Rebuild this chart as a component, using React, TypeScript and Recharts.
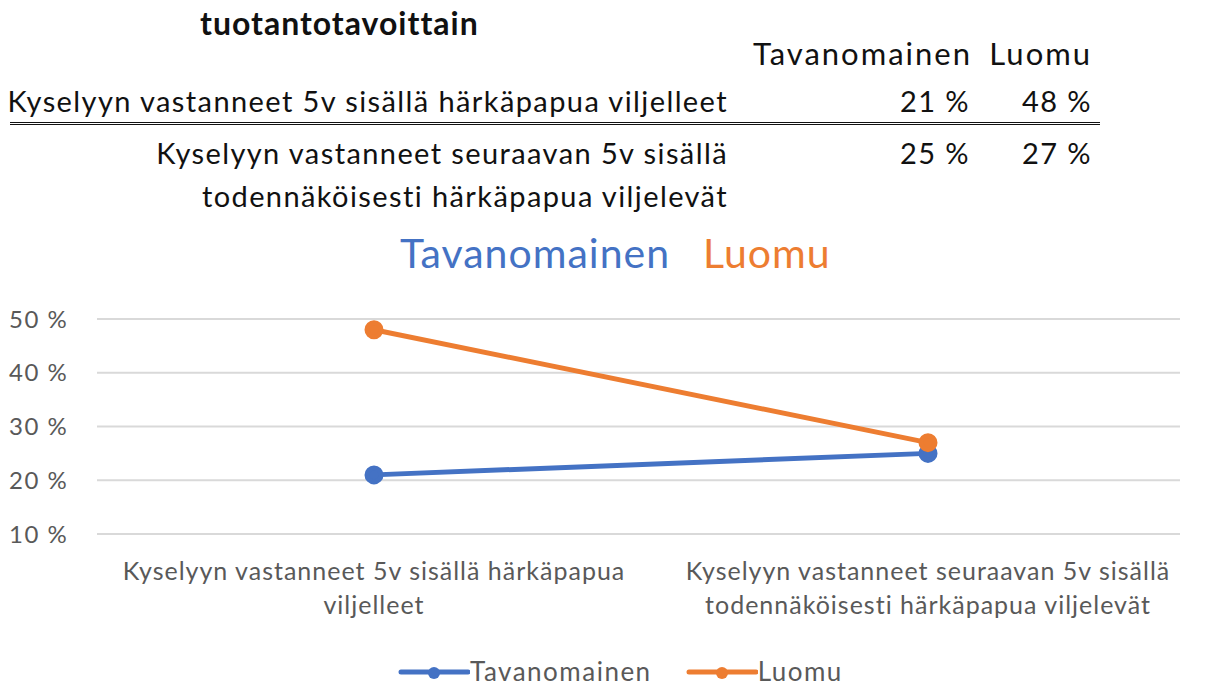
import React from "react";
import { CartesianGrid, Line, LineChart, XAxis, YAxis } from "recharts";

// Values (percent)
const CATEGORIES = [
  "Kyselyyn vastanneet 5v sisällä härkäpapua|viljelleet",
  "Kyselyyn vastanneet seuraavan 5v sisällä|todennäköisesti härkäpapua viljelevät",
];
const TAVANOMAINEN = [21, 25];
const LUOMU = [48, 27];
const Y_TICKS = [10, 20, 30, 40, 50];

const TABLE_ROWS = [
  ["Kyselyyn vastanneet 5v sisällä härkäpapua viljelleet"],
  ["Kyselyyn vastanneet seuraavan 5v sisällä", "todennäköisesti härkäpapua viljelevät"],
];

const BLUE = "#4472C4";
const ORANGE = "#ED7D31";
const GRAY = "#595959";
const FONT = "Lato, 'Open Sans', sans-serif";

const data = CATEGORIES.map((c, i) => ({
  name: c,
  Tavanomainen: TAVANOMAINEN[i],
  Luomu: LUOMU[i],
}));

function CategoryTick({ x, y, payload }: any) {
  const lines = String(payload.value).split("|");
  return (
    <text x={x} y={y} textAnchor="middle" fill={GRAY} fontSize={25} letterSpacing={1} fontFamily={FONT}>
      {lines.map((l, i) => (
        <tspan key={i} x={x} dy={i === 0 ? 38 : 34}>
          {l}
        </tspan>
      ))}
    </text>
  );
}

const pct = (v: number) => `${Math.round(v)} %`;

export default function App() {
  const txt: React.CSSProperties = {
    position: "absolute", fontFamily: FONT, fontSize: 29, letterSpacing: 1.4, color: "#111", whiteSpace: "nowrap", lineHeight: 1,
  };
  const head: React.CSSProperties = { ...txt, fontSize: 31, letterSpacing: 2 };
  return (
    <div style={{ position: "relative", width: 1208, height: 687, background: "#fff", overflow: "hidden" }}>
      <style>{"body{margin:0}"}</style>

      {/* table above the chart */}
      <div style={{ ...txt, left: 200, top: 7, fontSize: 32, letterSpacing: 1, fontWeight: 700 }}>tuotantotavoittain</div>
      <div style={{ ...head, right: 1208 - 972, top: 38 }}>Tavanomainen</div>
      <div style={{ ...head, right: 1208 - 1092, top: 38 }}>Luomu</div>

      <div style={{ ...txt, right: 1208 - 728, top: 86 }}>{TABLE_ROWS[0][0]}</div>
      <div style={{ ...txt, right: 1208 - 970, top: 86 }}>{pct(TAVANOMAINEN[0])}</div>
      <div style={{ ...txt, right: 1208 - 1092, top: 86 }}>{pct(LUOMU[0])}</div>

      <div style={{ position: "absolute", left: 10, top: 122, width: 1090, borderTop: "3px double #111" }} />

      <div style={{ ...txt, right: 1208 - 728, top: 138 }}>{TABLE_ROWS[1][0]}</div>
      <div style={{ ...txt, right: 1208 - 728, top: 181 }}>{TABLE_ROWS[1][1]}</div>
      <div style={{ ...txt, right: 1208 - 970, top: 138 }}>{pct(TAVANOMAINEN[1])}</div>
      <div style={{ ...txt, right: 1208 - 1092, top: 138 }}>{pct(LUOMU[1])}</div>

      {/* chart title */}
      <div style={{ ...txt, left: 400, top: 232, fontSize: 41, letterSpacing: 1, color: BLUE }}>
        Tavanomainen<span style={{ color: ORANGE, marginLeft: 33 }}>Luomu</span>
      </div>

      <div style={{ position: "absolute", left: 0, top: 0 }}>
        <LineChart width={1208} height={687} data={data} margin={{ top: 319, right: 28, bottom: 123, left: 7 }}>
          <CartesianGrid stroke="#d9d9d9" strokeWidth={2} vertical={false} />
          <XAxis
            dataKey="name"
            axisLine={false}
            tickLine={false}
            tick={<CategoryTick />}
            interval={0}
            padding={{ left: 277, right: 252 }}
          />
          <YAxis
            domain={[10, 50]}
            ticks={Y_TICKS}
            width={90}
            axisLine={false}
            tickLine={false}
            tickFormatter={(v) => `${v} %`}
            tick={{ fontSize: 24, letterSpacing: 1.5, fill: GRAY, fontFamily: FONT, textAnchor: "start", dx: -80 }}
          />
          <Line dataKey="Tavanomainen" stroke={BLUE} strokeWidth={5} dot={{ r: 7, fill: BLUE, stroke: BLUE }} isAnimationActive={false} />
          <Line dataKey="Luomu" stroke={ORANGE} strokeWidth={5} dot={{ r: 7, fill: ORANGE, stroke: ORANGE }} isAnimationActive={false} />
        </LineChart>
      </div>

      {/* legend */}
      <div style={{ position: "absolute", top: 658, left: 398, display: "flex", gap: 34, fontFamily: FONT, fontSize: 26, lineHeight: "26px", letterSpacing: 1.5, color: GRAY }}>
        {[["Tavanomainen", BLUE], ["Luomu", ORANGE]].map(([name, col]) => (
          <div key={name} style={{ display: "flex", alignItems: "center" }}>
            <svg width={72} height={22}>
              <line x1={3} y1={12} x2={70} y2={12} stroke={col} strokeWidth={5} strokeLinecap="round" />
              <circle cx={36} cy={13} r={6} fill={col} />
            </svg>
            <span>{name}</span>
          </div>
        ))}
      </div>
    </div>
  );
}
